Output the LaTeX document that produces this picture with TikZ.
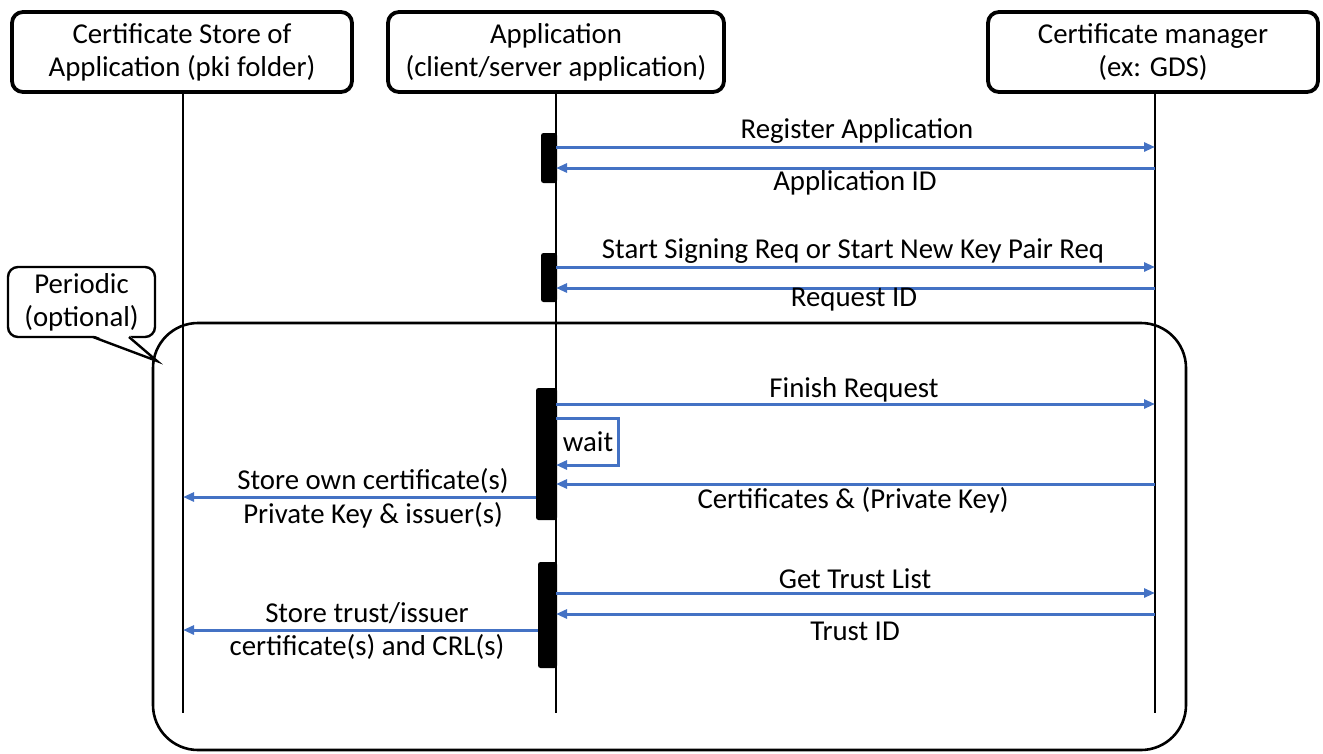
\documentclass[tikz,border=0pt]{standalone}
\usepackage{fontspec}
\setmainfont{Carlito}
\usetikzlibrary{arrows.meta}

\tikzset{
  actor/.style={draw, line width=3.8pt, rounded corners=11pt, align=center,
    minimum height=80pt, inner sep=0pt, font=\fontsize{28.8}{33}\selectfont},
  lifeline/.style={line width=2.4pt},
  msg/.style={draw=msgblue, line width=3pt, -{Triangle[length=11pt,width=9pt]}},
  activation/.style={fill=black, rounded corners=2.5pt},
  lbl/.style={font=\fontsize{28.8}{33}\selectfont, inner sep=0pt, align=center},
  loopframe/.style={draw, line width=2.6pt, rounded corners=45pt},
}
\definecolor{msgblue}{HTML}{4472C4}

\begin{document}
\begin{tikzpicture}[x=1pt,y=-1pt]
\useasboundingbox (0,0) rectangle (1323,753);

% participants
\node[actor, minimum width=340pt] (store) at (182,52)
  {Certificate Store of\\Application (pki folder)};
\node[actor, minimum width=336pt] (app) at (556,52)
  {Application\\(client/server application)};
\node[actor, minimum width=330pt] (mgr) at (1153,52)
  {Certificate manager\\(ex: GDS)};

% lifeline ends
\coordinate (storeEnd) at (183,713);
\coordinate (appEnd) at (556,713);
\coordinate (mgrEnd) at (1155,713);

% periodic frame
\draw[loopframe] (153,323) rectangle (1186,750);

% lifelines
\draw[lifeline] (store.south -| storeEnd) -- (storeEnd);
\draw[lifeline] (app.south -| appEnd) -- (appEnd);
\draw[lifeline] (mgr.south -| mgrEnd) -- (mgrEnd);

% activation bars
\fill[activation] (541,133) rectangle (557,183);
\fill[activation] (541,253) rectangle (557,302);
\fill[activation] (536,388) rectangle (557,520);
\fill[activation] (538,562) rectangle (557,668);

% message anchor points
\coordinate (a1) at (556,147);  \coordinate (m1) at (1155,147);
\coordinate (a2) at (556,168);  \coordinate (m2) at (1155,168);
\coordinate (a3) at (556,267);  \coordinate (m3) at (1155,267);
\coordinate (a4) at (556,288);  \coordinate (m4) at (1155,288);
\coordinate (a5) at (556,404);  \coordinate (m5) at (1155,404);
\coordinate (a6) at (556,484);  \coordinate (m6) at (1155,484);
\coordinate (a7) at (556,593);  \coordinate (m7) at (1155,593);
\coordinate (a8) at (556,614);  \coordinate (m8) at (1155,614);
\coordinate (b1) at (536,497);  \coordinate (s1) at (183,497);
\coordinate (b2) at (538,630);  \coordinate (s2) at (183,630);
\coordinate (w1) at (556,418);  \coordinate (w2) at (556,465);

% messages
\draw[msg] (a1) -- (m1);
\draw[msg] (m2) -- (a2);
\draw[msg] (a3) -- (m3);
\draw[msg] (m4) -- (a4);
\draw[msg] (a5) -- (m5);
\draw[msg] (m6) -- (a6);
\draw[msg] (a7) -- (m7);
\draw[msg] (m8) -- (a8);
\draw[msg] (b1) -- (s1);
\draw[msg] (b2) -- (s2);
\draw[msg] (w1) -- ++(62,0) |- (w2);

% message labels
\node[lbl] (l1) at (857,131) {Register Application};
\node[lbl] (l2) at (855,183) {Application ID};
\node[lbl] (l3) at (853,251) {Start Signing Req or Start New Key Pair Req};
\node[lbl] (l4) at (854,300) {Request ID};
\node[lbl] (l5) at (854,390) {Finish Request};
\node[lbl] (l6) at (588,442) {wait};
\node[lbl] (l7) at (853,500) {Certificates \& (Private Key)};
\node[lbl] (l8) at (373,481) {Store own certificate(s)};
\node[lbl] (l9) at (373,515) {Private Key \& issuer(s)};
\node[lbl] (l10) at (855,579) {Get Trust List};
\node[lbl] (l11) at (855,631) {Trust ID};
\node[lbl] (l12) at (367,613) {Store trust/issuer};
\node[lbl] (l13) at (367,647) {certificate(s) and CRL(s)};

% callout
\node[draw, line width=2.4pt, rounded corners=10pt, fill=white, align=center,
  minimum width=147pt, minimum height=70pt, inner sep=0pt,
  font=\fontsize{28.8}{33}\selectfont] (note) at (81.5,302) {Periodic\\(optional)};
\coordinate (tip) at (157,361);
\fill[white] (93,335) -- (tip) -- (129,335) -- cycle;
\draw[line width=2.4pt, line join=miter] (93,337) -- (tip) -- (129,337);
\end{tikzpicture}
\end{document}
